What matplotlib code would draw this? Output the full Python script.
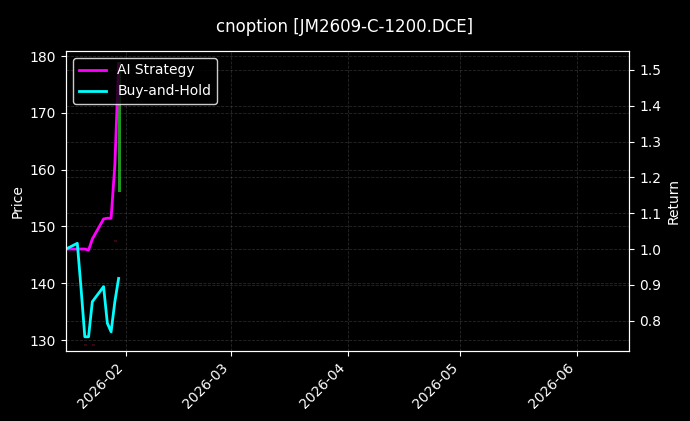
import matplotlib
matplotlib.use("Agg")
import matplotlib.pyplot as plt
import matplotlib.dates as mdates
import numpy as np
import pandas as pd

# trading days shown on the chart
dates = pd.to_datetime([
    "2026-01-16", "2026-01-19", "2026-01-20", "2026-01-21", "2026-01-22",
    "2026-01-23", "2026-01-26", "2026-01-27", "2026-01-28", "2026-01-29",
    "2026-01-30",
])

# cumulative returns (right axis)
ai_strategy = [1.0, 1.0, 1.0, 1.0, 0.997, 1.028, 1.084, 1.086, 1.086, 1.235, 1.517]
buy_hold = [1.0, 1.016, 0.89, 0.755, 0.755, 0.853, 0.895, 0.793, 0.769, 0.853, 0.918]

# price candles (left axis), only a few are visible behind the lines
candle_dates = pd.to_datetime(["2026-01-21", "2026-01-23", "2026-01-28", "2026-01-29", "2026-01-30"])
candle_open = [129.3, 129.3, 131.4, 147.7, 156.0]
candle_close = [128.9, 128.9, 131.0, 147.3, 179.0]

plt.style.use("dark_background")
fig = plt.figure(figsize=(6.9, 4.21), dpi=100)
ax1 = fig.add_axes([0.0957, 0.166, 0.8163, 0.713])

# candles
for d, o, c in zip(candle_dates, candle_open, candle_close):
    color = "#1e9a1e" if c >= o else "#b01030"
    alpha = 1.0 if c >= o and abs(c - o) > 5 else 0.35
    ax1.bar(d + pd.Timedelta(hours=6), c - o, bottom=o, width=0.7, color=color, alpha=alpha, linewidth=0)

ax1.set_ylim(128.06, 180.9)
ax1.set_ylabel("Price")
ax1.grid(True, linestyle="--", color="gray", alpha=0.3, linewidth=0.6)

ax2 = ax1.twinx()
ax2.plot(dates, ai_strategy, color="magenta", linewidth=2, label="AI Strategy")
ax2.plot(dates, buy_hold, color="cyan", linewidth=2, label="Buy-and-Hold")
ax2.set_ylim(0.715, 1.553)
ax2.set_ylabel("Return")
ax2.grid(True, linestyle="--", color="gray", alpha=0.3, linewidth=0.6)
ax2.legend(loc="upper left", edgecolor="white", framealpha=0.8)

ax1.set_xlim(pd.Timestamp("2026-01-16"), pd.Timestamp("2026-06-15"))
ax1.xaxis.set_major_locator(mdates.MonthLocator())
ax1.xaxis.set_major_formatter(mdates.DateFormatter("%Y-%m"))
plt.setp(ax1.get_xticklabels(), rotation=45, ha="right")

fig.suptitle("cnoption [JM2609-C-1200.DCE]", fontsize=12, y=0.957)

fig.savefig("out.png", dpi=100)
